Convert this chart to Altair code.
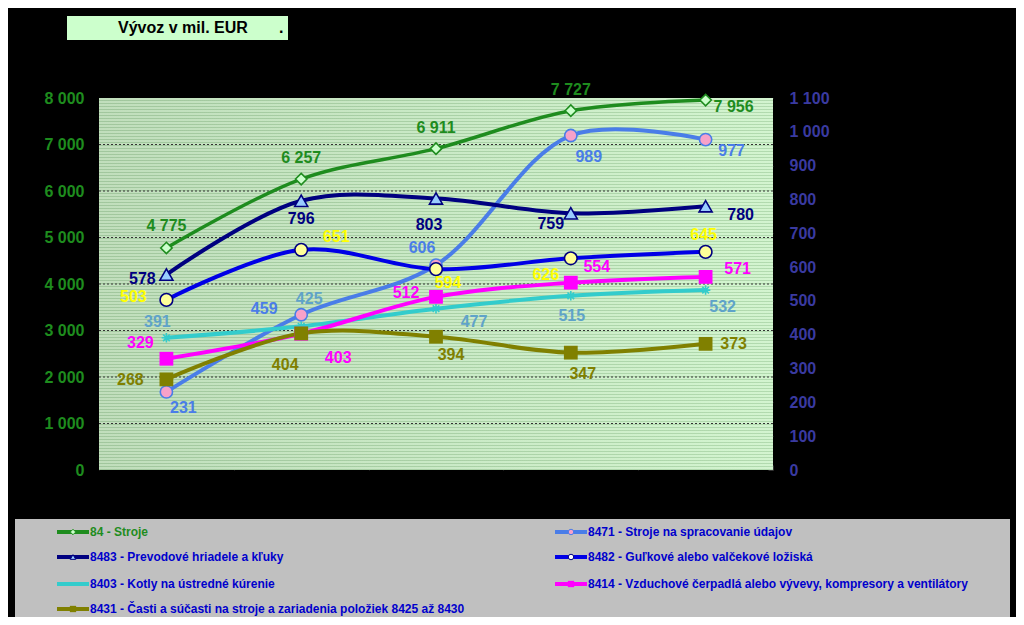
import altair as alt
import pandas as pd

# ---------------- data ----------------
CATS = ["1", "2", "3", "4", "5"]  # periods (no x labels in the reference)

N84 = "84 - Stroje"
N8471 = "8471 - Stroje na  spracovanie údajov"
N8483 = "8483 - Prevodové hriadele  a kľuky"
N8482 = "8482 - Guľkové alebo valčekové ložiská"
N8403 = "8403 - Kotly na ústredné kúrenie"
N8414 = "8414 - Vzduchové čerpadlá alebo vývevy, kompresory a ventilátory"
N8431 = "8431 - Časti a súčasti na stroje a zariadenia položiek 8425 až 8430"

V84 = [4775, 6257, 6911, 7727, 7956]      # left axis
V8471 = [231, 459, 606, 989, 977]         # right axis
V8483 = [578, 796, 803, 759, 780]
V8482 = [503, 651, 594, 626, 645]
V8403 = [391, 425, 477, 515, 532]
V8414 = [329, 403, 512, 554, 571]
V8431 = [268, 404, 394, 347, 373]

LEFT_TICKS = [0, 1000, 2000, 3000, 4000, 5000, 6000, 7000, 8000]
RIGHT_TICKS = [0, 100, 200, 300, 400, 500, 600, 700, 800, 900, 1000, 1100]
GRID_VALUES = [1000, 2000, 3000, 4000, 5000, 6000, 7000]

TITLE_TEXT = "Vývoz v mil. EUR"
TITLE_DOT = "."

# ---------------- styling / layout ----------------
W, H = 674, 372
FONT = "Liberation Sans"

# label offsets (dx, dy) per point
OFF84 = [(0, -22), (0, -21), (0, -21), (0, -21), (28, 7)]
OFF8471 = [(17, 16), (-37, -6), (-14, -17), (18, 21), (26, 11)]
OFF8483 = [(-24, 4), (0, 18), (-7, 27), (-20, 11), (35, 9)]
OFF8482 = [(-33, -3), (35, -13), (12, 14), (-25, 17), (-2, -17)]
OFF8403 = [(-9, -16), (8, -27), (38, 13), (1, 20), (17, 17)]
OFF8414 = [(-26, -16), (37, 24), (-30, -4), (26, -16), (32, -8)]
OFF8431 = [(-36, 1), (-16, 32), (15, 18), (12, 21), (28, 0)]

ASTERISK = "M-1,0L1,0M0,-1L0,1M-0.7,-0.7L0.7,0.7M-0.7,0.7L0.7,-0.7"

# name, values, line color, label color, marker spec, offsets
SERIES_RIGHT = [
    (N8471, V8471, "#4a7de8", "#4a7de8",
     dict(kind="point", shape="circle", fill="#f7a1c9", stroke="#4a7de8", size=150), OFF8471),
    (N8483, V8483, "#000080", "#000080",
     dict(kind="point", shape="triangle-up", fill="#99ccff", stroke="#000080", size=170), OFF8483),
    (N8482, V8482, "#0000e6", "#ffff00",
     dict(kind="point", shape="circle", fill="#ffff99", stroke="#000080", size=160), OFF8482),
    (N8403, V8403, "#33cccc", "#5fa3c9",
     dict(kind="star", shape=ASTERISK, fill=None, stroke="#33cccc", size=90), OFF8403),
    (N8414, V8414, "#ff00ff", "#ff00ff",
     dict(kind="square", fill="#ff00ff", size=190), OFF8414),
    (N8431, V8431, "#808000", "#808000",
     dict(kind="square", fill="#808000", size=190), OFF8431),
]


def fmt(v):
    return f"{v:,}".replace(",", " ")


x_axis = alt.Axis(title=None, labels=False, domain=False, grid=False,
                  tickBand="extent", tickSize=5, offset=-5, tickColor="#333333")


def xenc():
    return alt.X("cat:N", sort=CATS, bandPosition=0.5,
                 scale=alt.Scale(type="band", paddingInner=0, paddingOuter=0),
                 axis=x_axis)


label_expr = "replace(format(datum.value, ','), ',', ' ')"

left_axis = alt.Axis(values=LEFT_TICKS, title=None, grid=False, ticks=False, domain=False,
                     labelColor="#1e8c1e", labelFont=FONT, labelFontSize=16,
                     labelFontWeight="bold", labelPadding=15, labelExpr=label_expr,
                     labelOverlap=False, labelFlush=False)
right_axis = alt.Axis(values=RIGHT_TICKS, title=None, grid=False, orient="right",
                      domain=False, tickSize=5, offset=-5, tickColor="#333333",
                      labelColor="#3a3aa0", labelFont=FONT, labelFontSize=16,
                      labelFontWeight="bold", labelPadding=16, labelExpr=label_expr,
                      labelOverlap=False, labelFlush=False)


def yleft():
    return alt.Y("v:Q", scale=alt.Scale(domain=[0, 8000], nice=False), axis=left_axis)


def yright():
    return alt.Y("v:Q", scale=alt.Scale(domain=[0, 1100], nice=False), axis=right_axis)


def frame(vals):
    return pd.DataFrame({"cat": CATS, "v": vals, "label": [fmt(v) for v in vals]})


def line_layer(vals, color, yfun, width=4):
    return alt.Chart(frame(vals)).mark_line(
        color=color, strokeWidth=width, interpolate="catmull-rom"
    ).encode(x=xenc(), y=yfun())


def marker_layer(vals, spec, yfun):
    base = alt.Chart(frame(vals))
    if spec["kind"] == "square":
        m = base.mark_square(color=spec["fill"], size=spec["size"], opacity=1)
    elif spec["kind"] == "star":
        m = base.mark_point(shape=spec["shape"], filled=False, stroke=spec["stroke"],
                            strokeWidth=1.6, size=spec["size"], opacity=1)
    else:
        m = base.mark_point(shape=spec["shape"], filled=True, fill=spec["fill"],
                            stroke=spec["stroke"], strokeWidth=1.6, size=spec["size"],
                            opacity=1)
    return m.encode(x=xenc(), y=yfun())


def label_layers(vals, color, offs, yfun):
    df = frame(vals)
    out = []
    for i, (dx, dy) in enumerate(offs):
        out.append(
            alt.Chart(df.iloc[[i]]).mark_text(
                dx=dx, dy=dy, color=color, font=FONT, fontSize=16, fontWeight="bold",
                align="center", baseline="middle"
            ).encode(x=xenc(), y=yfun(), text="label:N")
        )
    return out


one = pd.DataFrame({"d": [0]})

# plot-area background: horizontal gradient + fine horizontal stripes
bg = alt.Chart(one).mark_rect(
    color=alt.LinearGradient(gradient="linear", x1=0, y1=0, x2=1, y2=0,
                             stops=[alt.GradientStop(offset=0, color="#b8dab3"),
                                    alt.GradientStop(offset=1, color="#cdf3c9")])
).encode(x=alt.value(0), x2=alt.value(W), y=alt.value(0), y2=alt.value(H))

NSTRIPE = 124
stripe_stops = []
for k in range(NSTRIPE):
    a = k / NSTRIPE
    b = (k + 0.62) / NSTRIPE
    c = (k + 1) / NSTRIPE
    stripe_stops += [alt.GradientStop(offset=a, color="rgba(255,255,255,0.12)"),
                     alt.GradientStop(offset=b, color="rgba(255,255,255,0.12)"),
                     alt.GradientStop(offset=b, color="rgba(70,120,70,0.20)"),
                     alt.GradientStop(offset=c, color="rgba(70,120,70,0.20)")]
stripes = alt.Chart(one).mark_rect(
    color=alt.LinearGradient(gradient="linear", x1=0, y1=0, x2=0, y2=1, stops=stripe_stops)
).encode(x=alt.value(0), x2=alt.value(W), y=alt.value(0), y2=alt.value(H))

grid = alt.Chart(pd.DataFrame({"v": GRID_VALUES})).mark_rule(
    color="#333333", strokeWidth=1, strokeDash=[2, 2]
).encode(y=yleft(), x=alt.value(0), x2=alt.value(W))

# title box
title_box = alt.Chart(one).mark_rect(color="#ccffcc").encode(
    x=alt.value(-32), x2=alt.value(189), y=alt.value(-82), y2=alt.value(-58))
title_txt = alt.Chart(pd.DataFrame({"t": [TITLE_TEXT]})).mark_text(
    font=FONT, fontSize=16, fontWeight="bold", color="black", align="left",
    baseline="middle").encode(text="t:N", x=alt.value(19), y=alt.value(-70))
title_dot = alt.Chart(pd.DataFrame({"t": [TITLE_DOT]})).mark_text(
    font=FONT, fontSize=16, fontWeight="bold", color="black", align="left",
    baseline="middle").encode(text="t:N", x=alt.value(180), y=alt.value(-70))

# legend box
legend_box = alt.Chart(one).mark_rect(color="#c0c0c0").encode(
    x=alt.value(-84), x2=alt.value(911), y=alt.value(421), y2=alt.value(519))

LEG = [
    (N84, "#1e8c1e", "#1e8c1e", dict(kind="point", shape="diamond", fill="#ccffcc", stroke="#1e8c1e"), -42, 434),
    (N8483, "#000080", "#0000cc", dict(kind="point", shape="triangle-up", fill="#99ccff", stroke="#000080"), -42, 459),
    (N8403, "#33cccc", "#0000cc", None, -42, 486),
    (N8431, "#808000", "#0000cc", dict(kind="square", fill="#808000"), -42, 511),
    (N8471, "#4a7de8", "#0000cc", dict(kind="point", shape="circle", fill="#f7a1c9", stroke="#4a7de8"), 456, 434),
    (N8482, "#0000e6", "#0000cc", dict(kind="point", shape="circle", fill="#ffffff", stroke="#000080"), 456, 459),
    (N8414, "#ff00ff", "#0000cc", dict(kind="square", fill="#ff00ff"), 456, 486),
]

legend_layers = [legend_box]
for name, lc, tc, mk, lx, ly in LEG:
    legend_layers.append(
        alt.Chart(one).mark_rule(color=lc, strokeWidth=4).encode(
            x=alt.value(lx), x2=alt.value(lx + 32), y=alt.value(ly)))
    if mk is not None:
        if mk["kind"] == "square":
            legend_layers.append(alt.Chart(one).mark_square(color=mk["fill"], size=40, opacity=1)
                                 .encode(x=alt.value(lx + 16), y=alt.value(ly)))
        else:
            legend_layers.append(alt.Chart(one).mark_point(
                shape=mk["shape"], filled=True, fill=mk["fill"], stroke=mk["stroke"],
                strokeWidth=1, size=30, opacity=1).encode(x=alt.value(lx + 16), y=alt.value(ly)))
    legend_layers.append(
        alt.Chart(pd.DataFrame({"t": [name]})).mark_text(
            font=FONT, fontSize=12, fontWeight="bold", color=tc, align="left",
            baseline="middle").encode(text="t:N", x=alt.value(lx + 33), y=alt.value(ly)))

# ---------------- left-axis group ----------------
left_layers = [bg, stripes, grid,
               line_layer(V84, "#1e8c1e", yleft, 3.5),
               marker_layer(V84, dict(kind="point", shape="diamond", fill="#ccffcc",
                                      stroke="#1e8c1e", size=130), yleft)]
left_layers += label_layers(V84, "#1e8c1e", OFF84, yleft)
left_layers += [title_box, title_txt, title_dot] + legend_layers
left = alt.layer(*left_layers)

# ---------------- right-axis group ----------------
right_layers = [line_layer(v, lc, yright) for _, v, lc, _, _, _ in SERIES_RIGHT]
right_layers += [marker_layer(v, mk, yright) for _, v, _, _, mk, _ in SERIES_RIGHT]
for _, v, _, tc, _, offs in SERIES_RIGHT:
    right_layers += label_layers(v, tc, offs, yright)
right = alt.layer(*right_layers)

chart = alt.layer(left, right).resolve_scale(y="independent").properties(
    width=W, height=H,
    autosize=alt.AutoSizeParams(type="none"),
    padding={"left": 91, "top": 90, "right": 1008 - 91 - W, "bottom": 609 - 90 - H},
    background="black",
).configure_view(strokeWidth=0)

chart.save("out.html", embed_options={"renderer": "svg", "actions": False})
